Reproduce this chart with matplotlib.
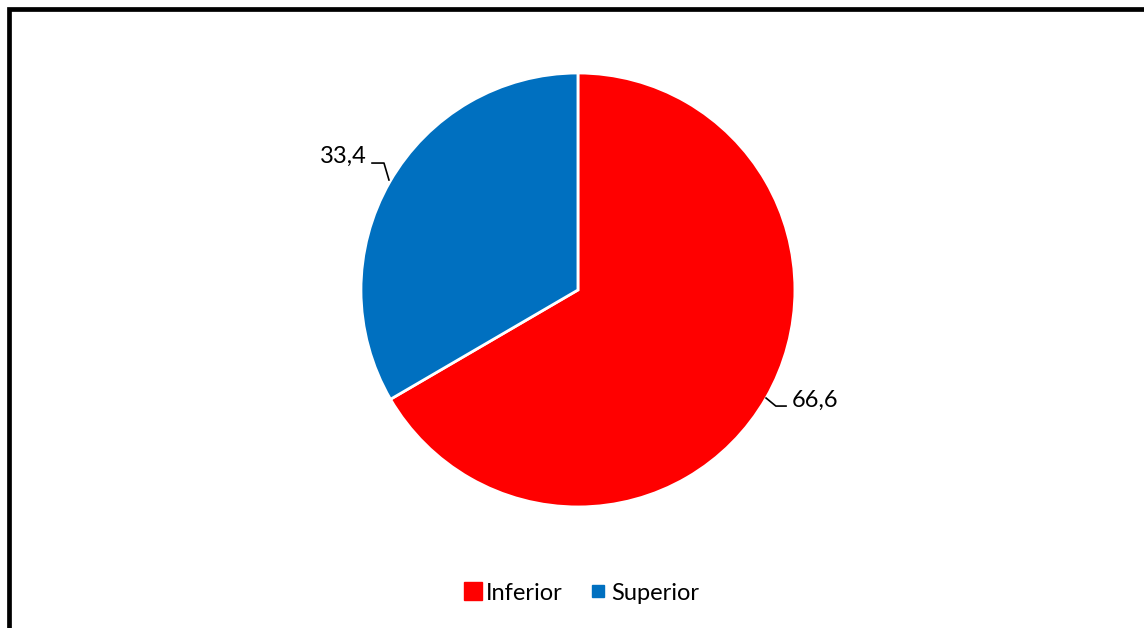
import matplotlib.pyplot as plt
from matplotlib.lines import Line2D
from matplotlib.patches import Rectangle

labels = ["Inferior", "Superior"]
values = [66.6, 33.4]
colors = ["#ff0000", "#0070c0"]
value_text = ["66,6", "33,4"]

plt.rcParams['font.family'] = ['Lato', 'DejaVu Sans']


def main():
    fig = plt.figure(figsize=(11.44, 6.28), dpi=100)
    fig.patch.set_facecolor("white")

    # square axes so the pie keeps its shape
    ax = fig.add_axes([0.2776, 0.1236, 0.4552, 0.8293])
    ax.pie(values, colors=colors, startangle=90, counterclock=False,
           radius=1.0, wedgeprops=dict(edgecolor="white", linewidth=2))
    ax.set_xlim(-1.2, 1.2)
    ax.set_ylim(-1.2, 1.2)
    ax.set_aspect("equal")
    ax.axis("off")

    # data labels with elbow leader lines
    ax.plot([0.867, 0.912, 0.959], [-0.498, -0.535, -0.535],
            color="black", lw=1.2)
    ax.text(0.986, -0.507, value_text[0], ha="left", va="center",
            fontsize=17)
    ax.plot([-0.871, -0.894, -0.949], [0.507, 0.585, 0.585],
            color="black", lw=1.2)
    ax.text(-0.972, 0.618, value_text[1], ha="right", va="center",
            fontsize=17)

    handles = [Line2D([], [], marker="s", ls="", color=colors[0],
                      markersize=13),
               Line2D([], [], marker="s", ls="", color=colors[1],
                      markersize=8)]
    fig.legend(handles, labels, loc="center", ncol=2, frameon=False,
               bbox_to_anchor=(580 / 1144, 1 - 593 / 628), fontsize=17,
               handletextpad=0.05, columnspacing=1.0, handlelength=1.0)

    # outer frame
    fig.patches.append(Rectangle((8.5 / 1144, -0.05), 1.0, 1.0 - 9 / 628 + 0.05,
                                 transform=fig.transFigure, fill=False,
                                 edgecolor="black", linewidth=3.4))

    fig.savefig("out.png", dpi=100)


if __name__ == "__main__":
    main()
